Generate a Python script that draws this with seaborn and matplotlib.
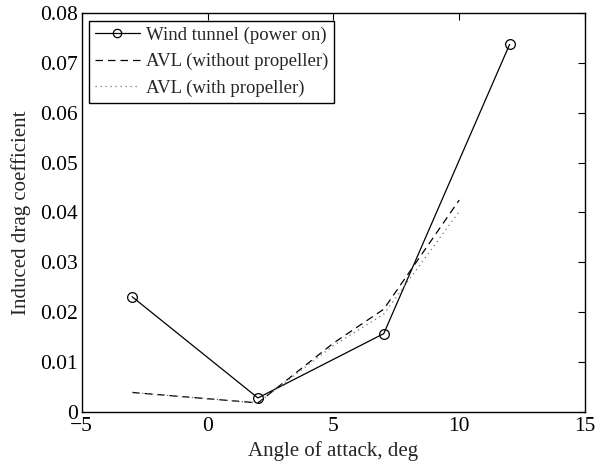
import matplotlib
matplotlib.use("Agg")
import matplotlib.pyplot as plt
import seaborn as sns
import pandas as pd

# Data
wt_alpha = [-3, 2, 7, 12]
wt_cdi = [0.0231, 0.0028, 0.0157, 0.0737]

avl_alpha = [-3, 2, 5, 7, 10]
avl_noprop_cdi = [0.0039, 0.0018, 0.0138, 0.0206, 0.0425]
avl_prop_cdi = [0.0039, 0.0018, 0.0133, 0.0196, 0.0402]

x_ticks = [-5, 0, 5, 10, 15]
x_tick_labels = ["\u22125", "0", "5", "10", "15"]
y_ticks = [0, 0.01, 0.02, 0.03, 0.04, 0.05, 0.06, 0.07, 0.08]
y_tick_labels = ["0", "0.01", "0.02", "0.03", "0.04", "0.05", "0.06", "0.07", "0.08"]

sns.set_style("white")
plt.rcParams['font.family'] = ['Liberation Serif', 'DejaVu Serif']

fig = plt.figure(figsize=(5.97, 4.67), dpi=100)
ax = fig.add_axes([0.137, 0.118, 0.843, 0.854])

df_wt = pd.DataFrame({"alpha": wt_alpha, "cdi": wt_cdi})
df_np = pd.DataFrame({"alpha": avl_alpha, "cdi": avl_noprop_cdi})
df_p = pd.DataFrame({"alpha": avl_alpha, "cdi": avl_prop_cdi})

sns.lineplot(data=df_wt, x="alpha", y="cdi", ax=ax, color="black", linewidth=0.9,
             marker="o", markersize=7, markerfacecolor="none", markeredgecolor="black",
             markeredgewidth=0.9, sort=False, estimator=None,
             label="Wind tunnel (power on)")
sns.lineplot(data=df_np, x="alpha", y="cdi", ax=ax, color="black", linewidth=0.9,
             sort=False, estimator=None, label="AVL (without propeller)")
sns.lineplot(data=df_p, x="alpha", y="cdi", ax=ax, color="0.45", linewidth=0.9,
             sort=False, estimator=None, label="AVL (with propeller)")
ax.lines[1].set_dashes([6, 4])
ax.lines[2].set_linestyle((0, (1, 3)))

ax.set_xlim(-5, 15)
ax.set_ylim(0, 0.08)
ax.set_xticks(x_ticks)
ax.set_xticklabels(x_tick_labels)
ax.set_yticks(y_ticks)
ax.set_yticklabels(y_tick_labels)
ax.tick_params(direction="in", length=5, width=0.8, top=True, right=True,
               labelsize=15.5, colors="black")
ax.tick_params(axis="x", pad=4)
ax.tick_params(axis="y", pad=3)
for s in ax.spines.values():
    s.set_visible(True)
    s.set_color("black")
    s.set_linewidth(1.0)

ax.set_xlabel("Angle of attack, deg", fontsize=15, labelpad=3)
ax.set_ylabel("Induced drag coefficient", fontsize=15, labelpad=6)

leg = ax.legend(loc="upper left", fontsize=13.5, frameon=True, fancybox=False,
                edgecolor="black", borderpad=0.3, labelspacing=0.5,
                handlelength=2.4, handletextpad=0.35, borderaxespad=0.4)
leg.get_frame().set_linewidth(1.0)
leg.get_frame().set_alpha(1)
h = leg.get_lines()
h[0].set_markersize(6)
h[1].set_dashes([6, 4])
h[2].set_linestyle((0, (1, 3)))

fig.savefig("out.png", dpi=100)
